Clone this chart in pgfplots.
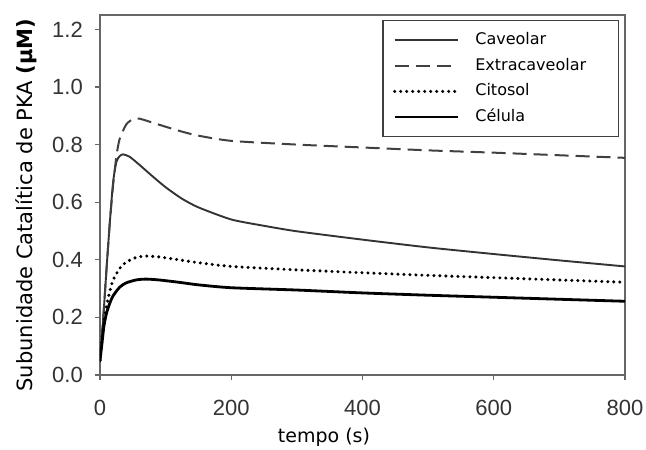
\documentclass[border=0pt]{standalone}
\usepackage{fontspec}
\usepackage{pgfplots}
\pgfplotsset{compat=1.18}
\setmainfont{DejaVu Sans}
\newfontfamily\dejavu{DejaVu Sans}
\newfontfamily\arialf{Liberation Sans}
\begin{document}
\begin{tikzpicture}
\begin{axis}[name=ax, scale only axis, width=525pt, height=360pt,
  xmin=0, xmax=800, ymin=0, ymax=1.25,
  xtick={0,200,400,600,800},
  ytick={0,0.2,0.4,0.6,0.8,1.0,1.2},
  yticklabels={0.0,0.2,0.4,0.6,0.8,1.0,1.2},
  tick align=outside, major tick length=5pt,
  xtick pos=left, ytick pos=left,
  axis line style={draw=black!60, line width=1.3pt},
  tick style={draw=black!60, line width=1.2pt},
  /pgf/number format/assume math mode=true,
  ticklabel style={font=\arialf\fontsize{22}{26}\selectfont, text=black!80},
  xticklabel style={anchor=north, inner sep=0pt, yshift=-20pt},
  yticklabel style={anchor=east, inner sep=0pt, xshift=-12pt},
  xlabel={tempo (s)},
  ylabel={Subunidade Catalítica de PKA \textbf{(μM)}},
  every axis x label/.style={at={(axis description cs:0.4267,0)}, anchor=center, yshift=-62pt, font=\dejavu\fontsize{19}{23}\selectfont},
  every axis y label/.style={at={(axis description cs:0,0.472)}, rotate=90, anchor=center, yshift=74pt, font=\dejavu\fontsize{21}{25}\selectfont},
  legend style={at={(axis description cs:0.9886,0.986)}, anchor=north east,
    draw=black!75, line width=1.3pt, fill=white,
    font=\dejavu\fontsize{16}{19}\selectfont,
    inner xsep=10pt, inner ysep=12pt, row sep=10pt,
    cells={anchor=west},
    nodes={inner sep=0pt, text height=12pt, text depth=3.5pt, text width=133pt, align=left}},
  legend image code/.code={\path (0pt,3pt); \path (79pt,0pt); \draw[#1] (0pt,0pt) -- (63pt,0pt);},
]
\addplot[color=black!80, line width=1.9pt, smooth, tension=0.4] coordinates {
(0,0.05)(5,0.2)(10,0.37)(15,0.53)(20,0.67)(25,0.74)(30,0.76)(35,0.766)(45,0.758)(60,0.73)(80,0.69)(100,0.652)(125,0.612)(150,0.582)(200,0.54)(250,0.518)(300,0.499)(400,0.47)(500,0.443)(600,0.42)(700,0.398)(800,0.377)};
\addlegendentry{Caveolar}
\addplot[color=black!75, line width=2pt, dash pattern=on 14pt off 7pt, smooth, tension=0.4] coordinates {
(0,0.05)(5,0.2)(10,0.37)(15,0.53)(20,0.66)(25,0.76)(30,0.82)(40,0.87)(50,0.888)(60,0.89)(75,0.88)(100,0.862)(125,0.845)(150,0.831)(200,0.813)(300,0.8)(400,0.79)(500,0.78)(600,0.772)(700,0.763)(800,0.754)};
\addlegendentry{Extracaveolar}
\addplot[color=black, line width=3.4pt, line cap=round, dash pattern=on 0pt off 6pt, smooth, tension=0.4] coordinates {
(0,0.05)(3,0.12)(6,0.18)(10,0.24)(15,0.29)(20,0.33)(30,0.37)(40,0.392)(55,0.408)(70,0.413)(90,0.41)(120,0.4)(150,0.39)(200,0.377)(300,0.365)(400,0.355)(500,0.346)(600,0.338)(700,0.33)(800,0.322)};
\addlegendentry{Citosol}
\addplot[color=black, line width=2.8pt, smooth, tension=0.4] coordinates {
(0,0.05)(3,0.11)(6,0.17)(10,0.215)(15,0.25)(20,0.275)(30,0.305)(40,0.32)(55,0.33)(70,0.333)(90,0.33)(120,0.322)(150,0.313)(200,0.303)(300,0.295)(400,0.285)(500,0.277)(600,0.27)(700,0.263)(800,0.256)};
\addlegendentry{Célula}
\end{axis}
\path (ax.south west) ++(-100pt,-75pt) coordinate (bl);
\path (ax.north east) ++(21pt,15pt) coordinate (tr);
\pgfresetboundingbox
\useasboundingbox (bl) rectangle (tr);
\end{tikzpicture}
\end{document}
